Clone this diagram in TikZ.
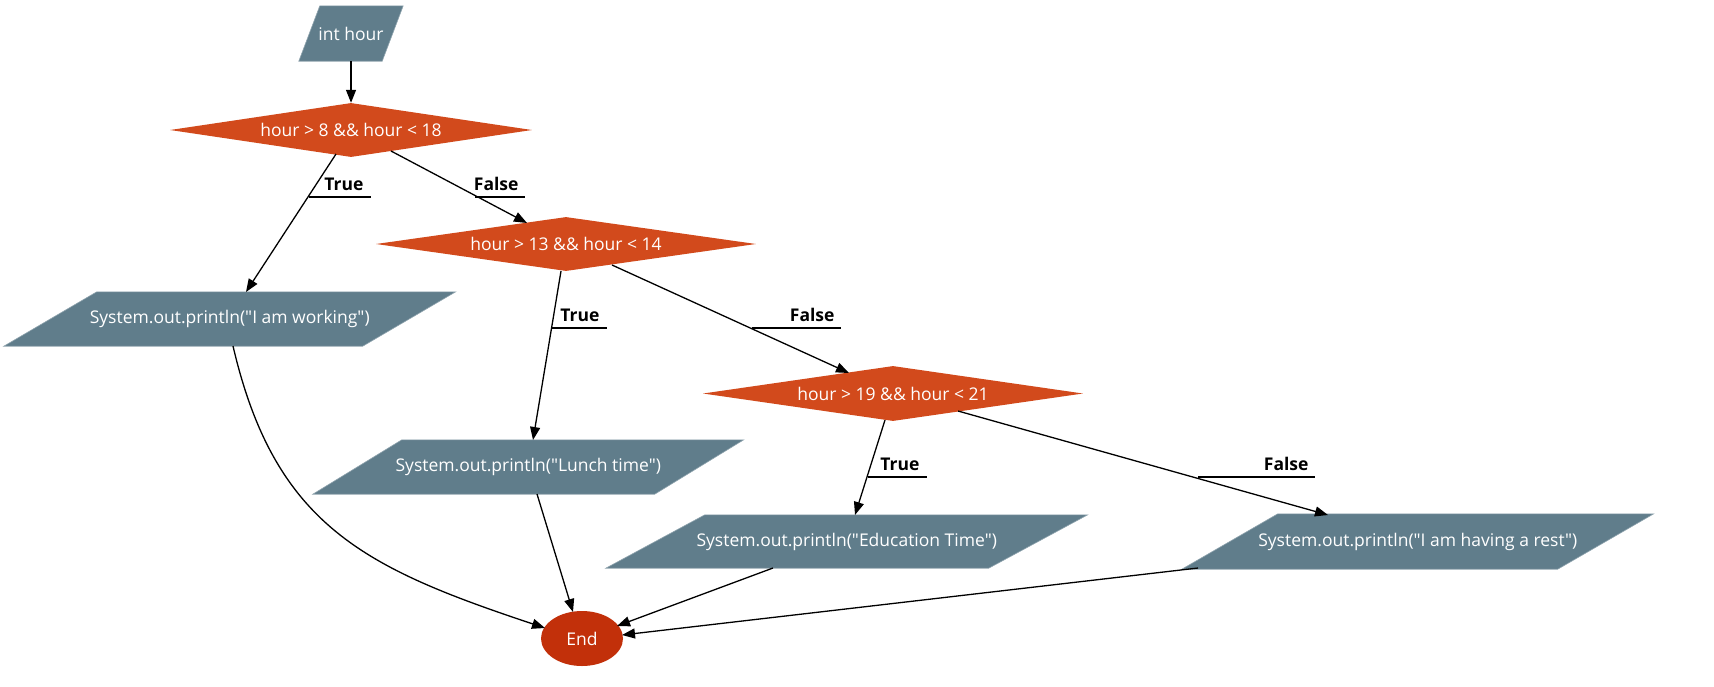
\documentclass[tikz,border=0pt]{standalone}
\usepackage{fontspec}
\setmainfont{Open Sans}[Ligatures=TeXOff]
\usetikzlibrary{shapes.geometric,arrows.meta,calc,backgrounds}
\definecolor{paraC}{HTML}{607D8B}
\definecolor{paraB}{HTML}{90A4AE}
\definecolor{decC}{HTML}{D24A1C}
\definecolor{endC}{HTML}{C2300A}
\newcommand\drawpara[2]{%
  \fill[paraC,draw=paraB,line width=0.6pt]
    ($(#1.north west)+(#2/2,0)$) -- ($(#1.north east)+(#2/2,0)$) --
    ($(#1.south east)+(-#2/2,0)$) -- ($(#1.south west)+(-#2/2,0)$) -- cycle;}
\newcommand\qq{\symbol{34}}
\tikzset{
  txt/.style={text=white,font=\fontsize{17.5}{21}\selectfont},
  parabox/.style={txt,rectangle,inner sep=0pt},
  decbox/.style={txt,diamond,fill=decC,inner sep=0pt,aspect=6.7},
  endbox/.style={txt,ellipse,fill=endC,inner sep=0pt,minimum width=82pt,minimum height=55pt},
  arr/.style={-{Triangle[length=13pt,width=10pt]},line width=1.3pt},
  lbl/.style={anchor=base east,font=\fontsize{17.5}{21}\selectfont\bfseries},
  uline/.style={line width=1.3pt}
}
\begin{document}
\begin{tikzpicture}[x=1pt,y=-1pt]
\useasboundingbox (0,0) rectangle (1714,686);
% nodes
\node[parabox,minimum width=83pt,minimum height=55pt] (inth) at (351,33.5) {int hour};
\node[decbox,minimum width=362pt,minimum height=54pt] (d1) at (351,130) {hour > 8 \&\& hour < 18};
\node[decbox,minimum width=380pt,minimum height=54pt] (d2) at (566,244) {hour > 13 \&\& hour < 14};
\node[decbox,minimum width=380pt,minimum height=55pt] (d3) at (893,393.5) {hour > 19 \&\& hour < 21};
\node[parabox,minimum width=358.5pt,minimum height=54pt] (work) at (229.75,319) {System.out.println(\qq I am working\qq)};
\node[parabox,minimum width=341.5pt,minimum height=54pt] (lunch) at (528.25,467) {System.out.println(\qq Lunch time\qq)};
\node[parabox,minimum width=382.5pt,minimum height=53pt] (edu) at (846.75,541.5) {System.out.println(\qq Education Time\qq)};
\node[parabox,minimum width=375.5pt,minimum height=55pt] (rest) at (1417.75,541.5) {System.out.println(\qq I am having a rest\qq)};
\node[endbox] (end) at (582,638.5) {End};
\begin{scope}[on background layer]
  \drawpara{inth}{21}
  \drawpara{work}{93}
  \drawpara{lunch}{89}
  \drawpara{edu}{99}
  \drawpara{rest}{96}
\end{scope}
% edges
\draw[arr] (inth.south) -- (d1.north);
\draw[arr] ($(d1)+(-15,24)$) -- ($(work)+(16.25,-27)$);
\draw[arr] ($(d1)+(40,21)$) -- ($(d2)+(-39,-21)$);
\draw[arr] ($(d2)+(-5,27)$) -- ($(lunch)+(4.75,-27)$);
\draw[arr] ($(d2)+(46,21)$) -- ($(d3)+(-44,-20.5)$);
\draw[arr] ($(d3)+(-8,26.5)$) -- ($(edu)+(8.25,-26.5)$);
\draw[arr] ($(d3)+(65,17.5)$) -- ($(rest)+(-89.75,-26.5)$);
\draw[arr] ($(work)+(3.25,27)$) .. controls +(42,180) and +(-180,-60) .. ($(end)+(-37,-10.5)$);
\draw[arr] ($(lunch)+(8.75,27)$) -- ($(end)+(-9,-26.5)$);
\draw[arr] ($(edu)+(-73.75,26.5)$) -- ($(end)+(35,-12.5)$);
\draw[arr] ($(rest)+(-219.75,26.5)$) -- ($(end)+(40,-3.5)$);
% edge labels
\coordinate (u1a) at (309,197); \coordinate (u1b) at (371,197);
\draw[uline] (u1a) -- (u1b); \node[lbl] (l1) at ($(u1b)+(-4,-7)$) {True};
\coordinate (u2a) at (475,197); \coordinate (u2b) at (525,197);
\draw[uline] (u2a) -- (u2b); \node[lbl] (l2) at ($(u2b)+(-3,-7)$) {False};
\coordinate (u3a) at (552,328); \coordinate (u3b) at (607,328);
\draw[uline] (u3a) -- (u3b); \node[lbl] (l3) at ($(u3b)+(-4,-7)$) {True};
\coordinate (u4a) at (752,328); \coordinate (u4b) at (841,328);
\draw[uline] (u4a) -- (u4b); \node[lbl] (l4) at ($(u4b)+(-3,-7)$) {False};
\coordinate (u5a) at (868,477); \coordinate (u5b) at (927,477);
\draw[uline] (u5a) -- (u5b); \node[lbl] (l5) at ($(u5b)+(-4,-7)$) {True};
\coordinate (u6a) at (1198,477); \coordinate (u6b) at (1315,477);
\draw[uline] (u6a) -- (u6b); \node[lbl] (l6) at ($(u6b)+(-3,-7)$) {False};
\end{tikzpicture}
\end{document}
